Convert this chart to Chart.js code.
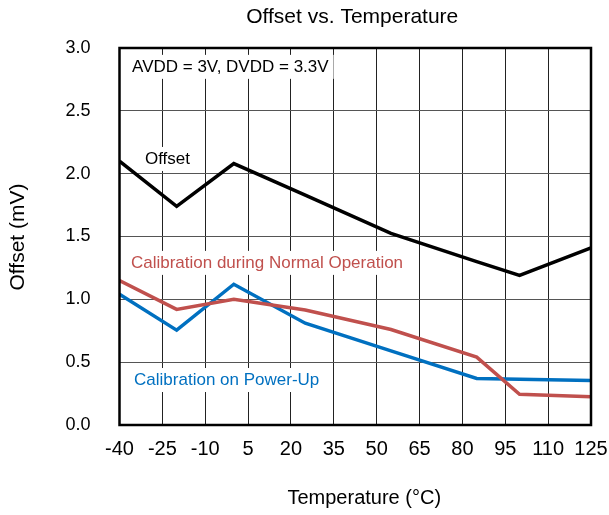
<!DOCTYPE html>
<html>
<head>
<meta charset="utf-8">
<script src="https://cdn.jsdelivr.net/npm/chart.js@4.4.1/dist/chart.umd.min.js"></script>
<style>
  html, body { margin: 0; padding: 0; background: #fff; }
  #wrap { width: 609px; height: 515px; }
</style>
</head>
<body>
<div id="wrap"><canvas id="chart"></canvas></div>
<script>
// temperatures (°C) where the curves bend
const temps = [-40, -20, 0, 25, 55, 85, 100, 125];
// offset in mV
const offsetRaw = [2.10, 1.74, 2.08, 1.83, 1.525, 1.30, 1.19, 1.41];
const calNormal = [1.15, 0.92, 1.00, 0.915, 0.76, 0.54, 0.245, 0.225];
const calPowerUp = [1.04, 0.755, 1.12, 0.81, 0.59, 0.37, 0.365, 0.355];

const toPoints = vals => temps.map((t, i) => ({ x: t, y: vals[i] }));

const FONT = '"Liberation Sans", Arial, sans-serif';

// labels inside the plot: [text, x value, y value, colour]
const notes = [
    ['AVDD = 3V, DVDD = 3.3V', -35.6, 2.85, '#000'],
    ['Offset', -31.1, 2.117, '#000'],
    ['Calibration during Normal Operation', -36, 1.29, '#C0504D'],
    ['Calibration on Power-Up', -34.9, 0.358, '#0070C0']
];

const textLayer = {
    id: 'textLayer',
    beforeDatasetsDraw(chart) {
        const ctx = chart.ctx;
        const xs = chart.scales.x, ys = chart.scales.y;
        ctx.save();
        ctx.font = '17px ' + FONT;
        ctx.textBaseline = 'middle';
        ctx.textAlign = 'left';
        notes.forEach(([txt, xv, yv, col]) => {
            const px = xs.getPixelForValue(xv);
            const py = ys.getPixelForValue(yv);
            const w = ctx.measureText(txt).width;
            ctx.fillStyle = '#fff';
            ctx.fillRect(px - 5, py - 12, w + 10, 24);
            ctx.fillStyle = col;
            ctx.fillText(txt, px, py);
        });
        ctx.restore();
    },
    afterDatasetsDraw(chart) {
        const { ctx, chartArea: a } = chart;
        ctx.save();
        ctx.strokeStyle = '#000';
        ctx.lineWidth = 2.5;
        ctx.strokeRect(a.left, a.top, a.right - a.left, a.bottom - a.top);
        ctx.restore();
    },
    afterDraw(chart) {
        const { ctx, chartArea: a } = chart;
        ctx.save();
        ctx.fillStyle = '#000';
        ctx.textAlign = 'center';
        ctx.textBaseline = 'middle';
        ctx.font = '21px ' + FONT;
        ctx.fillText('Offset vs. Temperature', (a.left + a.right) / 2 - 3, 17);
        ctx.font = '20px ' + FONT;
        ctx.fillText('Temperature (°C)', (a.left + a.right) / 2 + 9, 498);
        ctx.translate(18, 237);
        ctx.rotate(-Math.PI / 2);
        ctx.font = '21px ' + FONT;
        ctx.fillText('Offset (mV)', 0, 0);
        ctx.restore();
    }
};

new Chart(document.getElementById('chart'), {
    type: 'line',
    data: {
        datasets: [
            { label: 'Offset', data: toPoints(offsetRaw), borderColor: '#000', borderWidth: 3.5 },
            { label: 'Calibration during Normal Operation', data: toPoints(calNormal), borderColor: '#C0504D', borderWidth: 3.5 },
            { label: 'Calibration on Power-Up', data: toPoints(calPowerUp), borderColor: '#0070C0', borderWidth: 3.5 }
        ]
    },
    options: {
        responsive: true,
        maintainAspectRatio: false,
        animation: false,
        layout: { padding: { top: 48, right: 18, left: 0, bottom: 0 } },
        elements: { point: { radius: 0 }, line: { tension: 0 } },
        plugins: {
            legend: { display: false },
            title: { display: false },
            tooltip: { enabled: false }
        },
        scales: {
            x: {
                type: 'linear',
                min: -40,
                max: 125,
                ticks: { stepSize: 15, color: '#000', padding: 12, font: { family: FONT, size: 20 }, maxRotation: 0 },
                grid: { color: '#222', lineWidth: 1, drawTicks: false },
                border: { display: false },
                afterFit(scale) {
                    scale.height = 90;
                    scale.paddingLeft = 0;
                    scale.paddingRight = 0;
                }
            },
            y: {
                min: 0,
                max: 3,
                ticks: {
                    stepSize: 0.5, color: '#000', padding: 29,
                    font: { family: FONT, size: 18 },
                    callback: v => v.toFixed(1)
                },
                grid: { color: '#555', lineWidth: 1, drawTicks: false },
                border: { display: false },
                afterFit(scale) {
                    scale.width = 119.5;
                    scale.paddingTop = 0;
                    scale.paddingBottom = 0;
                }
            }
        }
    },
    plugins: [textLayer]
});
</script>
</body>
</html>
